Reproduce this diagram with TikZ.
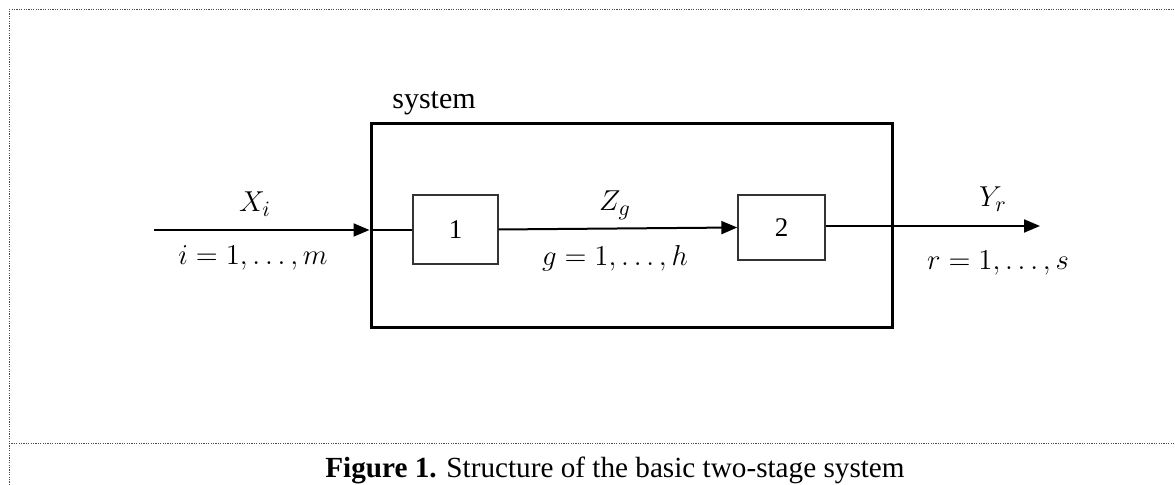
\documentclass[tikz,border=0pt]{standalone}
\usepackage{fontspec}
\setmainfont{Liberation Serif}
\usetikzlibrary{arrows.meta}
\begin{document}
\begin{tikzpicture}[x=0.5pt,y=-0.5pt,
  frameline/.style={draw=black!70, line width=0.5pt, dash pattern=on 0.6pt off 0.6pt},
  sysbox/.style={draw, line width=1.5pt, inner sep=0pt, minimum width=260.5pt, minimum height=102pt},
  stagebox/.style={draw=black!80, line width=0.7pt, inner sep=0pt, font=\fontsize{13.5}{15}\selectfont},
  flow/.style={line width=1pt, -{Triangle[length=8pt,width=6.5pt]}},
  plain/.style={line width=1pt},
  mathlbl/.style={anchor=base, inner sep=0pt, font=\fontsize{15.5}{18}\selectfont},
  txt/.style={inner sep=0pt, font=\fontsize{15}{18}\selectfont}
]
\useasboundingbox (0,0) rectangle (1175,485);
% frame
\draw[frameline] (9,485) -- (9,10) -- (1175,10);
\draw[frameline] (9,444) -- (1175,444);
% boxes
\node[sysbox] (sys) at (631.5,226) {};
\node[stagebox, minimum width=42.5pt, minimum height=34.5pt] (b1) at (455.5,229.5) {1};
\node[stagebox, minimum width=43.5pt, minimum height=32.5pt] (b2) at (781.5,227.5) {2};
\node[txt, anchor=base west] (syslbl) at (392,109) {system};
% connectors
\coordinate (in) at (154,230);
\coordinate (out) at (1040,226);
\coordinate (inj) at (sys.west |- in);
\coordinate (outj) at (sys.east |- out);
\draw[flow] (in) -- (inj);
\draw[plain] (inj) -- (b1.west |- inj);
\draw[flow] (b1.east) -- (b2.west);
\draw[plain] (b2.east |- outj) -- (outj);
\draw[flow] (outj) -- (out);
% labels
\node[mathlbl] (xl) at (255,212) {$X_i$};
\node[mathlbl] (il) at (253,265) {$i = 1, \ldots, m$};
\node[mathlbl] (zl) at (615,211) {$Z_g$};
\node[mathlbl] (gl) at (615,266) {$g = 1, \ldots, h$};
\node[mathlbl] (yl) at (993,207) {$Y_r$};
\node[mathlbl] (rl) at (998,270) {$r = 1, \ldots, s$};
% caption
\node[txt, anchor=base, font=\fontsize{14.6}{17}\selectfont] (cap) at (615,478) {\textbf{Figure 1.} Structure of the basic two-stage system};
\end{tikzpicture}
\end{document}
